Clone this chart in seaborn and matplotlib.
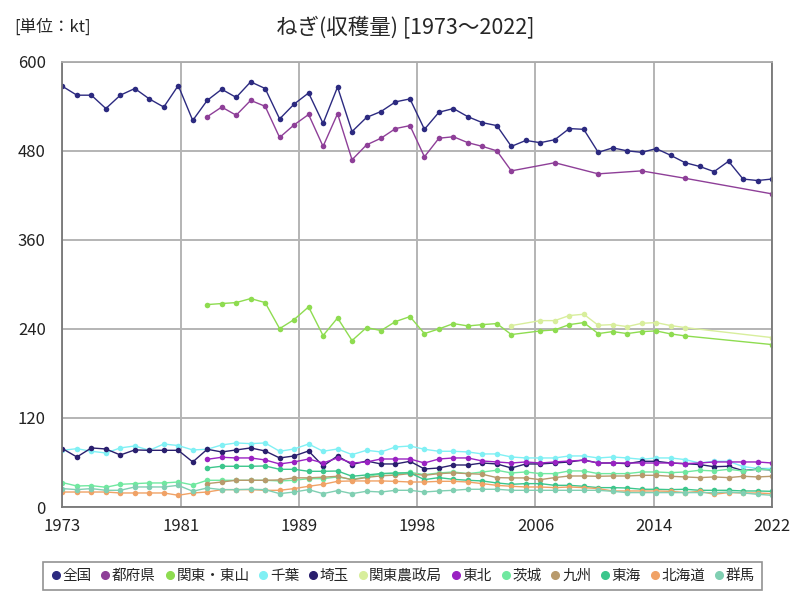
import numpy as np
import pandas as pd
import matplotlib
matplotlib.use("Agg")
import matplotlib.pyplot as plt
from matplotlib.lines import Line2D
import seaborn as sns

years = list(range(1973, 2023))
N = None

zenkoku = [567, 555, 555, 537, 555, 564, 550, 539, 568, 521,
           548, 563, 552, 573, 564, 523, 543, 558, 517, 566,
           506, 525, 533, 546, 550, 509, 532, 537, 526, 518,
           514, 486, 494, 491, 495, 510, 509, 478, 484, 480,
           478, 483, 474, 464, 459, 452, 466, 442, 440, 442]
tofuken = [N] * 10 + [526, 539, 528, 548, 540, 498, 515, 529, 486, 530,
                      468, 488, 497, 510, 514, 472, 497, 499, 491, 486,
                      480, 453, N, N, 464, N, N, 449, N, N,
                      453, N, N, 443, N, N, N, N, N, 422]
kanto_tozan = [N] * 10 + [272.8, 274.2, 275.5, 280.9, 275.5, 240.4, 252.6, 269.7, 231, 254.8,
                          224.3, 241.8, 237.8, 249.9, 256.6, 233.7, 240, 247.2, 244, 245.8,
                          247.2, 232.4, N, 237.3, 238.7, 245.8, 248.5, 233.7, 236.4, 233.7,
                          236.4, 237.3, 233.3, 230.6, N, N, N, N, N, 218.9]
chiba = [76.4, 78.6, 75.1, 72.8, 79.6, 82.3, 76.4, 84.9, 82.8, 76.9,
         77.8, 83.6, 86.3, 85.4, 86.3, 75.1, 78.2, 84.9, 75.1, 78.2,
         70.6, 76.4, 74.2, 80.9, 82.2, 77.8, 75.1, 75.1, 74.2, 71.5,
         71.5, 67.4, 66.1, 66.1, 66.1, 68.8, 68.8, 66.1, 67.4, 66.1,
         64.3, 66.1, 66.1, 63.9, 59.3, 61.6, 61.6, 54.5, 52, 52]
saitama = [78.7, 67.4, 79.6, 78.2, 70.1, 76.9, 76.4, 76.4, 76.4, 60.7,
           77.8, 74.2, 76.9, 79.6, 75.5, 66.1, 68.8, 75.5, 55.3, 68.8,
           57.2, 62, 58, 58, 61.6, 51.2, 52.6, 56.6, 56.6, 59.3,
           58, 52.6, 58, 58, 59.3, 60.7, 63.4, 59.3, 59.3, 58.4,
           61.6, 61.6, 59.3, 58.4, 57.2, 54.3, 54.9, 49, 51, 50]
kanto_nosei = [N] * 31 + [244.5, N, 251.2, 251.2, 258, 259.8, 244.9, 245.8, 243.1,
                          247.6, 248.5, 244.5, 241.8, N, N, N, N, N, 228.3]
tohoku = [N] * 10 + [64.3, 67, 66.1, 66.1, 63.4, 58, 60.7, 64.7, 59.3, 66.1,
                     59.3, 60.7, 64.7, 64.7, 64.7, 59.3, 64.7, 66.1, 66.1, 62,
                     60.7, 59.3, 60.7, 59.3, 60.7, 62, 63, 59.3, 59.3, 59.3,
                     59.3, 59.3, 59.3, 58.4, 59.3, 60.7, 60.7, 60.7, 60.7, 59.3]
ibaraki = [32.9, 28.3, 28.8, 26.6, 30.6, 31.5, 32.4, 32.4, 33.7, 29.7,
           36, 36, 36, 36, 36, 35.1, 36, 38.2, 38.2, 40.5,
           37.3, 40.5, 45, 45, 46.8, 43.6, 45.9, 47.2, 45, 47.2,
           49.5, 45.9, 47.2, 45, 45, 48.6, 48.6, 45, 45, 45,
           47.2, 47.2, 46.3, 47.2, 49.5, 48.6, 50.8, 48.6, 50.8, 50]
kyushu = [N] * 10 + [31.5, 33.7, 36, 36, 36, 36.5, 39.3, 39.3, 40.2, 41.4,
                     36.6, 39.8, 42, 43, 45, 42.7, 45, 45.9, 45, 44.1,
                     39.6, 39.2, 39.2, 36.9, 39.6, 41.8, 41.8, 41.4, 41.8, 41.8,
                     42.7, 42.7, 41.4, 40.5, 39.6, 40.5, 39.6, 41.4, 40.5, 41.4]
tokai = [N] * 10 + [52.6, 54.9, 54.9, 54.9, 55.3, 50.8, 50.8, 48.1, 48.1, 48.5,
                    41.4, 43.2, 45, 45.9, 45.9, 36.9, 39.6, 37.3, 36, 35.1,
                    32.4, 30.6, 31.5, 31.5, 29.2, 29.2, 27.9, 26.1, 26.1, 25.6,
                    23.9, 23.9, 23.4, 23.9, 22.5, 22.5, 22.5, 21.6, 21.6, 21.1]
hokkaido = [20.2, 20.2, 20.2, 20.2, 18.9, 18.9, 18.9, 18.9, 15.8, 18.9,
            20.2, 23.4, 23.4, 23.4, 22.5, 22.5, 24.8, 27.9, 30.6, 34.6,
            35.1, 35.1, 35.1, 34.6, 33.7, 33.7, 34.6, 34.6, 33.7, 31.5,
            29.2, 27.9, 27, 27, 26.1, 27, 26.1, 24.8, 21.6, 21.6,
            21.6, 21.6, 21.1, 19.4, 21.1, 17.1, 19.4, 18.9, 18.9, 18]
gunma = [24.8, 23.4, 24.8, 22.5, 22.5, 27, 27, 27, 29.2, 21.2,
         25.6, 23.4, 23.4, 23.9, 23.4, 18, 20.2, 23.4, 18, 22.1,
         18, 21.2, 20.2, 22.5, 22.5, 20.2, 21.6, 22.5, 23.9, 23.9,
         23.9, 22.5, 22.5, 22.5, 22.5, 22.5, 22.5, 22.5, 21.1, 19.4,
         19.4, 19.4, 19.4, 19.4, 19.4, 19.4, 20.2, 18.9, 17.1, 15.8]

series_names = ["全国", "都府県", "関東・東山", "千葉", "埼玉", "関東農政局",
                "東北", "茨城", "九州", "東海", "北海道", "群馬"]
series_values = [zenkoku, tofuken, kanto_tozan, chiba, saitama, kanto_nosei,
                 tohoku, ibaraki, kyushu, tokai, hokkaido, gunma]
colors = ["#2c2a80", "#8e3f98", "#8edc50", "#80f0f4", "#2a1f6e", "#d8ee9c",
          "#9a22c2", "#70e8a0", "#b89a6c", "#3cc68c", "#f0a266", "#80cfb2"]
xtick_labels = ["1973", "1981", "1989", "1998", "2006", "2014", "2022"]
ytick_values = [0, 120, 240, 360, 480, 600]

rows = []
for name, vals in zip(series_names, series_values):
    for y, v in zip(years, vals):
        if v is not None:
            rows.append({"year": y, "value": v, "series": name})
df = pd.DataFrame(rows)

sns.set_style("white")
plt.rcParams["font.family"] = ["Noto Sans CJK JP", "DejaVu Sans"]

fig = plt.figure(figsize=(8, 6), dpi=100)
ax = fig.add_axes([0.078, 0.155, 0.887, 0.742])

palette = dict(zip(series_names, colors))
sns.lineplot(data=df, x="year", y="value", hue="series", hue_order=series_names,
             palette=palette, marker="o", markersize=4, markeredgewidth=0,
             linewidth=1, estimator=None, legend=False, ax=ax)

ax.set_xlim(1973, 2022)
ax.set_ylim(0, 600)
xticks = 1973 + np.arange(len(xtick_labels)) * 49 / 6
ax.set_xticks(xticks)
ax.set_xticklabels(xtick_labels)
ax.set_yticks(ytick_values)
ax.grid(True, color="#b4b4b4", linewidth=1.4)
ax.set_axisbelow(True)
ax.tick_params(axis="both", length=0, labelsize=12, colors="#222222")
ax.tick_params(axis="y", pad=12)
ax.tick_params(axis="x", pad=8)
ax.set_xlabel("")
ax.set_ylabel("")
for side in ["left", "bottom", "right", "top"]:
    ax.spines[side].set_color("#777777")
    ax.spines[side].set_linewidth(1.3)
ax.spines["top"].set_color("#aaaaaa")

fig.text(0.506, 0.955, "ねぎ(収穫量) [1973～2022]", ha="center", va="center", fontsize=15.5)
fig.text(0.018, 0.955, "[単位：kt]", ha="left", va="center", fontsize=12)

handles = [Line2D([], [], marker="o", linestyle="", color=c, markersize=5.5) for c in colors]
leg = fig.legend(handles, series_names, loc="center", bbox_to_anchor=(0.503, 0.04), ncol=12,
                 fontsize=10.5, frameon=True, fancybox=False, edgecolor="#777777",
                 handletextpad=0.05, columnspacing=0.55, handlelength=0.8, borderpad=0.5)
leg.get_frame().set_linewidth(1.2)

fig.savefig("out.png", dpi=100)
